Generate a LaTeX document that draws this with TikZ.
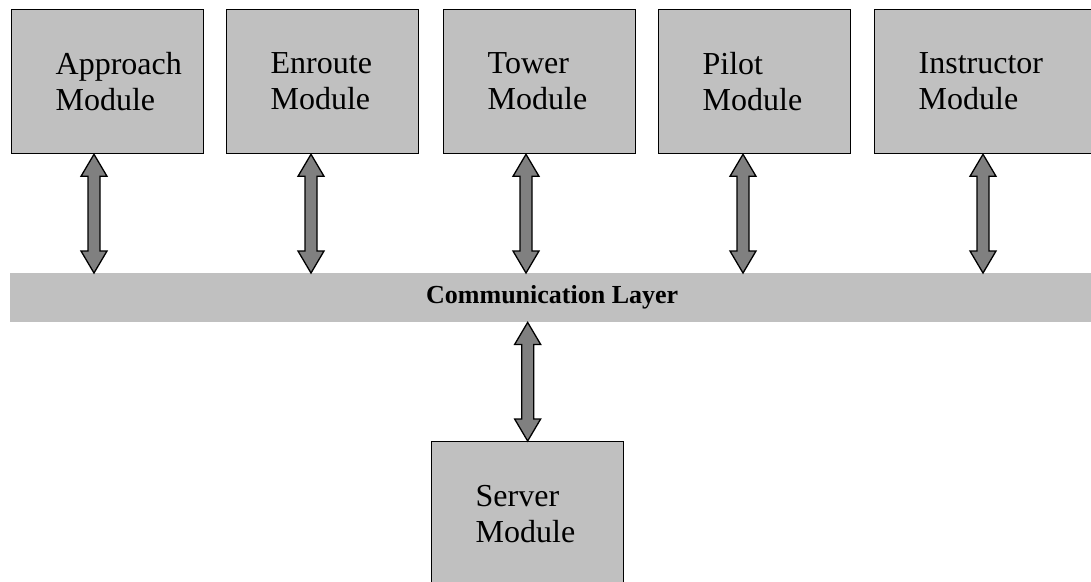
\documentclass[tikz,border=0pt]{standalone}
\usepackage{fontspec}
\setmainfont{Liberation Serif}
\usetikzlibrary{calc}
\definecolor{boxgray}{HTML}{C0C0C0}
\definecolor{arrgray}{HTML}{808080}
\tikzset{
  modbox/.style={draw=black, line width=1.3pt, fill=boxgray, anchor=north west,
    minimum width=192pt, minimum height=144pt, inner xsep=44pt, inner ysep=0pt,
    text width=104pt, align=left, font=\fontsize{32}{36}\selectfont},
  layer/.style={fill=boxgray, anchor=north west, minimum width=1090pt, minimum height=49pt,
    inner sep=0pt, font=\fontsize{26}{30}\selectfont\bfseries},
  dblarr/.style={draw=black, line width=1.3pt, fill=arrgray, line join=miter}
}
\newcommand\biarrow[2]{%
  \draw[dblarr] let \p1=(#1), \p2=(#2) in
    (\x1,\y1) -- (\x1+13pt,\y1-22pt) -- (\x1+6pt,\y1-22pt) -- (\x1+6pt,\y2+22pt)
    -- (\x1+13pt,\y2+22pt) -- (\x1,\y2) -- (\x1-13pt,\y2+22pt) -- (\x1-6pt,\y2+22pt)
    -- (\x1-6pt,\y1-22pt) -- (\x1-13pt,\y1-22pt) -- cycle;}
\begin{document}
\begin{tikzpicture}[x=1pt,y=-1pt]
\useasboundingbox (0,0) rectangle (1091,581);
\clip (0,0) rectangle (1091,581);
\node[modbox] (app) at (11,9) {Approach\\Module};
\node[modbox] (enr) at (226,9) {Enroute\\Module};
\node[modbox] (tow) at (443,9) {Tower\\Module};
\node[modbox] (pil) at (658,9) {Pilot\\Module};
\node[modbox, minimum width=250pt, text width=162pt] (ins) at (874,9) {Instructor\\Module};
\node[layer] (comm) at (10,273) {\hspace*{-6pt}Communication Layer};
\node[modbox] (srv) at (431,441) {Server\\Module};
\biarrow{[xshift=83pt]app.south west}{[xshift=83pt]app.south west |- comm.north}
\biarrow{[xshift=85pt]enr.south west}{[xshift=85pt]enr.south west |- comm.north}
\biarrow{[xshift=83pt]tow.south west}{[xshift=83pt]tow.south west |- comm.north}
\biarrow{[xshift=85pt]pil.south west}{[xshift=85pt]pil.south west |- comm.north}
\biarrow{[xshift=109pt]ins.south west}{[xshift=109pt]ins.south west |- comm.north}
\biarrow{srv.north |- comm.south}{srv.north}
\end{tikzpicture}
\end{document}
